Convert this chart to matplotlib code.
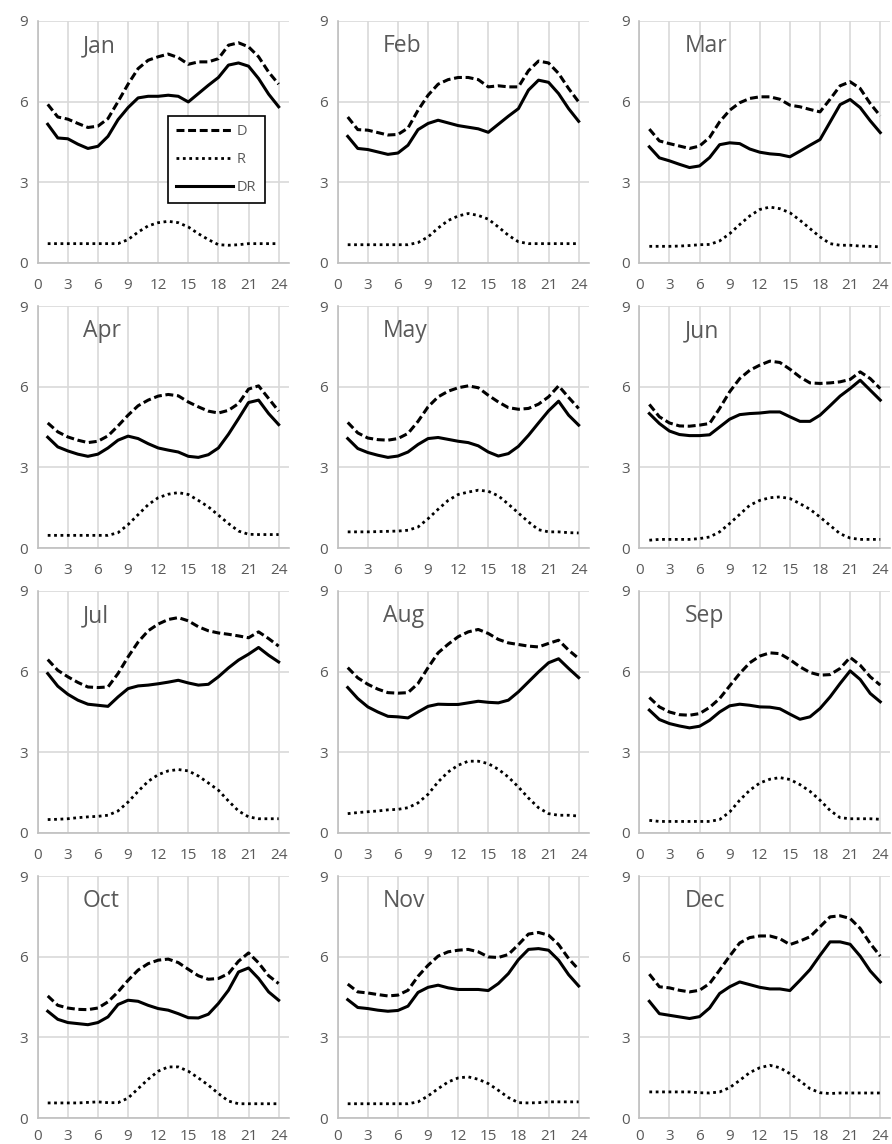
import matplotlib
matplotlib.use('Agg')
import matplotlib.pyplot as plt

months = ['Jan', 'Feb', 'Mar', 'Apr', 'May', 'Jun',
          'Jul', 'Aug', 'Sep', 'Oct', 'Nov', 'Dec']
hours = list(range(1, 25))
x_ticks = [0, 3, 6, 9, 12, 15, 18, 21, 24]
y_ticks = [0, 3, 6, 9]

# D (dashed), one row per month
d_vals = [
    [5.90, 5.43, 5.35, 5.19, 5.04, 5.09, 5.37, 6.00, 6.65, 7.23, 7.54, 7.67, 7.77, 7.64, 7.39, 7.48, 7.48, 7.60, 8.10, 8.19, 8.04, 7.67, 7.10, 6.65],
    [5.43, 4.96, 4.94, 4.85, 4.76, 4.78, 5.02, 5.68, 6.24, 6.65, 6.82, 6.90, 6.90, 6.82, 6.55, 6.59, 6.55, 6.55, 7.15, 7.51, 7.44, 7.05, 6.49, 5.99],
    [4.98, 4.54, 4.44, 4.35, 4.26, 4.35, 4.67, 5.25, 5.68, 5.96, 6.12, 6.18, 6.18, 6.09, 5.87, 5.81, 5.71, 5.62, 6.09, 6.59, 6.74, 6.49, 5.93, 5.47],
    [4.65, 4.32, 4.13, 4.01, 3.92, 3.97, 4.17, 4.54, 4.94, 5.29, 5.50, 5.65, 5.71, 5.66, 5.43, 5.25, 5.09, 5.02, 5.12, 5.37, 5.91, 6.03, 5.56, 5.09],
    [4.67, 4.28, 4.09, 4.03, 4.01, 4.07, 4.26, 4.71, 5.25, 5.62, 5.83, 5.96, 6.03, 5.96, 5.68, 5.43, 5.22, 5.16, 5.19, 5.35, 5.62, 6.03, 5.60, 5.19],
    [5.34, 4.88, 4.65, 4.54, 4.53, 4.57, 4.63, 5.19, 5.81, 6.30, 6.61, 6.80, 6.95, 6.90, 6.65, 6.36, 6.14, 6.12, 6.14, 6.18, 6.27, 6.55, 6.30, 5.93],
    [6.45, 6.05, 5.81, 5.60, 5.43, 5.41, 5.43, 5.93, 6.55, 7.10, 7.52, 7.77, 7.94, 8.01, 7.89, 7.67, 7.52, 7.44, 7.39, 7.33, 7.26, 7.48, 7.23, 6.95],
    [6.15, 5.77, 5.53, 5.35, 5.22, 5.20, 5.22, 5.56, 6.15, 6.70, 7.02, 7.30, 7.48, 7.57, 7.42, 7.20, 7.07, 7.01, 6.95, 6.92, 7.05, 7.17, 6.80, 6.49],
    [5.04, 4.69, 4.50, 4.40, 4.38, 4.44, 4.67, 5.00, 5.47, 5.93, 6.33, 6.58, 6.70, 6.67, 6.45, 6.18, 5.97, 5.87, 5.89, 6.12, 6.53, 6.24, 5.81, 5.50],
    [4.54, 4.19, 4.09, 4.04, 4.03, 4.09, 4.32, 4.69, 5.12, 5.50, 5.74, 5.87, 5.91, 5.78, 5.53, 5.29, 5.16, 5.19, 5.37, 5.83, 6.14, 5.77, 5.29, 5.00],
    [4.98, 4.69, 4.65, 4.59, 4.54, 4.57, 4.75, 5.27, 5.68, 6.02, 6.18, 6.24, 6.27, 6.18, 5.99, 5.97, 6.08, 6.45, 6.84, 6.90, 6.80, 6.45, 5.93, 5.52],
    [5.35, 4.88, 4.84, 4.75, 4.69, 4.75, 5.00, 5.50, 6.02, 6.51, 6.71, 6.77, 6.77, 6.67, 6.45, 6.58, 6.74, 7.11, 7.48, 7.52, 7.42, 7.05, 6.49, 6.02],
]

# R (dotted)
r_vals = [
    [0.72, 0.72, 0.72, 0.72, 0.72, 0.72, 0.72, 0.72, 0.87, 1.15, 1.38, 1.50, 1.55, 1.50, 1.34, 1.09, 0.87, 0.68, 0.66, 0.68, 0.72, 0.72, 0.72, 0.72],
    [0.68, 0.68, 0.68, 0.68, 0.68, 0.68, 0.68, 0.76, 0.97, 1.30, 1.58, 1.75, 1.84, 1.77, 1.63, 1.34, 1.03, 0.79, 0.72, 0.72, 0.72, 0.72, 0.72, 0.72],
    [0.62, 0.62, 0.62, 0.63, 0.65, 0.68, 0.69, 0.82, 1.09, 1.43, 1.75, 1.99, 2.08, 2.02, 1.87, 1.59, 1.28, 0.97, 0.72, 0.66, 0.66, 0.63, 0.62, 0.60],
    [0.47, 0.47, 0.47, 0.47, 0.47, 0.47, 0.47, 0.57, 0.87, 1.24, 1.61, 1.87, 2.00, 2.06, 1.99, 1.77, 1.53, 1.22, 0.91, 0.63, 0.51, 0.50, 0.50, 0.50],
    [0.60, 0.60, 0.60, 0.61, 0.62, 0.63, 0.66, 0.78, 1.09, 1.44, 1.77, 1.99, 2.08, 2.15, 2.11, 1.94, 1.63, 1.30, 0.97, 0.68, 0.60, 0.60, 0.57, 0.56],
    [0.29, 0.32, 0.32, 0.32, 0.32, 0.35, 0.41, 0.60, 0.91, 1.25, 1.59, 1.77, 1.87, 1.90, 1.84, 1.65, 1.44, 1.15, 0.84, 0.53, 0.37, 0.32, 0.32, 0.32],
    [0.50, 0.51, 0.53, 0.57, 0.60, 0.62, 0.66, 0.82, 1.15, 1.55, 1.92, 2.17, 2.31, 2.36, 2.31, 2.12, 1.86, 1.59, 1.19, 0.82, 0.60, 0.53, 0.53, 0.53],
    [0.72, 0.76, 0.79, 0.82, 0.86, 0.88, 0.94, 1.12, 1.44, 1.90, 2.27, 2.52, 2.67, 2.67, 2.58, 2.37, 2.08, 1.71, 1.30, 0.94, 0.72, 0.66, 0.66, 0.63],
    [0.47, 0.43, 0.43, 0.43, 0.43, 0.43, 0.43, 0.50, 0.78, 1.22, 1.59, 1.86, 2.00, 2.06, 1.99, 1.80, 1.55, 1.22, 0.84, 0.57, 0.53, 0.53, 0.53, 0.51],
    [0.56, 0.56, 0.56, 0.56, 0.58, 0.60, 0.57, 0.57, 0.74, 1.09, 1.44, 1.74, 1.90, 1.90, 1.74, 1.49, 1.22, 0.91, 0.63, 0.53, 0.53, 0.53, 0.53, 0.53],
    [0.53, 0.53, 0.53, 0.53, 0.53, 0.53, 0.53, 0.60, 0.82, 1.09, 1.34, 1.49, 1.53, 1.44, 1.28, 1.03, 0.76, 0.57, 0.56, 0.57, 0.60, 0.60, 0.60, 0.60],
    [0.97, 0.97, 0.97, 0.97, 0.97, 0.94, 0.93, 0.97, 1.13, 1.40, 1.69, 1.87, 1.96, 1.87, 1.65, 1.38, 1.09, 0.94, 0.91, 0.93, 0.93, 0.93, 0.93, 0.93],
]

# DR (solid)
dr_vals = [
    [5.16, 4.65, 4.62, 4.42, 4.26, 4.34, 4.71, 5.33, 5.78, 6.14, 6.20, 6.20, 6.24, 6.20, 5.99, 6.30, 6.61, 6.90, 7.36, 7.44, 7.32, 6.86, 6.28, 5.81],
    [4.71, 4.26, 4.22, 4.13, 4.04, 4.09, 4.38, 4.96, 5.19, 5.31, 5.21, 5.11, 5.05, 4.99, 4.86, 5.16, 5.46, 5.74, 6.43, 6.80, 6.72, 6.30, 5.74, 5.27],
    [4.32, 3.91, 3.80, 3.67, 3.55, 3.61, 3.92, 4.40, 4.47, 4.44, 4.24, 4.12, 4.06, 4.03, 3.95, 4.16, 4.38, 4.59, 5.24, 5.89, 6.08, 5.78, 5.29, 4.85],
    [4.12, 3.76, 3.61, 3.49, 3.41, 3.49, 3.72, 4.01, 4.16, 4.07, 3.88, 3.72, 3.64, 3.57, 3.41, 3.37, 3.47, 3.72, 4.23, 4.81, 5.41, 5.50, 5.00, 4.59],
    [4.07, 3.70, 3.55, 3.45, 3.37, 3.42, 3.57, 3.85, 4.07, 4.11, 4.04, 3.97, 3.92, 3.80, 3.57, 3.42, 3.51, 3.78, 4.19, 4.65, 5.10, 5.46, 4.94, 4.57],
    [5.00, 4.63, 4.35, 4.22, 4.18, 4.18, 4.21, 4.50, 4.79, 4.96, 5.00, 5.02, 5.06, 5.06, 4.88, 4.71, 4.71, 4.94, 5.29, 5.65, 5.93, 6.24, 5.87, 5.50],
    [5.93, 5.46, 5.16, 4.94, 4.79, 4.75, 4.71, 5.06, 5.37, 5.47, 5.50, 5.55, 5.61, 5.68, 5.58, 5.50, 5.53, 5.81, 6.14, 6.43, 6.65, 6.90, 6.61, 6.36],
    [5.41, 5.00, 4.69, 4.50, 4.34, 4.32, 4.28, 4.50, 4.71, 4.79, 4.78, 4.78, 4.84, 4.90, 4.86, 4.84, 4.94, 5.25, 5.62, 5.99, 6.33, 6.48, 6.12, 5.78],
    [4.57, 4.22, 4.07, 3.98, 3.91, 3.97, 4.19, 4.50, 4.73, 4.79, 4.75, 4.69, 4.68, 4.62, 4.42, 4.23, 4.32, 4.63, 5.06, 5.56, 6.03, 5.71, 5.19, 4.88],
    [3.97, 3.67, 3.55, 3.51, 3.47, 3.55, 3.76, 4.22, 4.38, 4.34, 4.19, 4.07, 4.01, 3.88, 3.73, 3.72, 3.86, 4.26, 4.75, 5.43, 5.58, 5.19, 4.69, 4.38],
    [4.40, 4.11, 4.07, 4.01, 3.97, 4.00, 4.16, 4.67, 4.86, 4.94, 4.84, 4.78, 4.78, 4.78, 4.74, 5.00, 5.37, 5.89, 6.27, 6.30, 6.24, 5.87, 5.33, 4.91],
    [4.34, 3.88, 3.82, 3.76, 3.70, 3.77, 4.09, 4.63, 4.88, 5.06, 4.96, 4.86, 4.80, 4.80, 4.74, 5.12, 5.52, 6.05, 6.55, 6.55, 6.46, 6.02, 5.47, 5.06],
]

plt.rcParams['font.family'] = ['Open Sans', 'DejaVu Sans']
grey = '#595959'
grid_c = '#d9d9d9'

fig = plt.figure(figsize=(8.92, 11.44), dpi=100)
W, H = 892, 1144
col_left = [37.7, 337.7, 639.3]
row_bottom = [263, 548, 833, 1118]
aw, ah = 251, 242

for i, m in enumerate(months):
    r, c = divmod(i, 3)
    ax = fig.add_axes([col_left[c] / W, (H - row_bottom[r]) / H, aw / W, ah / H])
    ax.plot(hours, d_vals[i], color='black', lw=2.2, ls=(0, (2.6, 1.2)), label='D')
    ax.plot(hours, r_vals[i], color='black', lw=2.0, ls=(0, (1, 1.3)), label='R')
    ax.plot(hours, dr_vals[i], color='black', lw=2.2, ls='-', label='DR')
    ax.set_xlim(0, 25)
    ax.set_ylim(0, 9)
    ax.set_xticks(x_ticks)
    ax.set_yticks(y_ticks)
    ax.grid(True, color=grid_c, lw=1.2)
    ax.set_axisbelow(True)
    for s in ['top', 'right']:
        ax.spines[s].set_visible(False)
    for s in ['left', 'bottom']:
        ax.spines[s].set_color('#bfbfbf')
        ax.spines[s].set_linewidth(1.2)
    ax.tick_params(length=0, labelsize=11, colors=grey)
    # bottom row sits at the figure edge, keep its labels inside
    ax.tick_params(axis='x', pad=8 if r == 3 else 11)
    ax.tick_params(axis='y', pad=7)
    ax.text(0.18, 0.895, m, transform=ax.transAxes, fontsize=16.5,
            color=grey, ha='left', va='center')
    if i == 0:
        leg = ax.legend(loc='upper left', bbox_to_anchor=(0.518, 0.607),
                        fancybox=False, edgecolor='black', framealpha=1,
                        fontsize=10.5, handlelength=3.9, labelspacing=0.9,
                        borderpad=0.55, handletextpad=0.3, borderaxespad=0)
        leg.get_frame().set_linewidth(1.2)
        for t in leg.get_texts():
            t.set_color(grey)

fig.savefig('out.png', dpi=100)
